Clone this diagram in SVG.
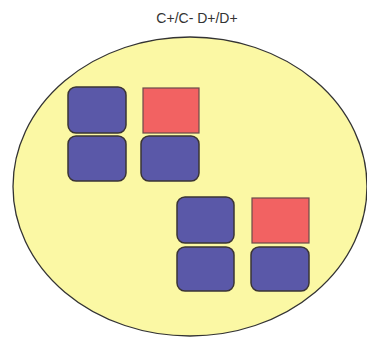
<svg xmlns="http://www.w3.org/2000/svg" width="367" height="339" viewBox="0 0 367 339">
<style>
.blue{fill:#5a58a8;stroke:#3a3434;stroke-width:1.5}
.red{fill:#f26262;stroke:#6a4a4a;stroke-width:1.2}
.lbl{font-family:"Liberation Sans",Arial,sans-serif;font-size:14px;fill:#333}
</style>
<rect width="367" height="339" fill="#fff"/>
<g id="title"><text class="lbl" x="197" y="23" text-anchor="middle">C+/C- D+/D+</text></g>
<g id="region"><ellipse cx="190" cy="186.5" rx="177" ry="149.5" fill="#fbf8a4" stroke="#333" stroke-width="1.3"/></g>
<g id="group1">
<rect class="blue" x="68" y="87" width="58" height="46" rx="8"/>
<rect class="red" x="143" y="88" width="56" height="45"/>
<rect class="blue" x="68" y="136" width="58" height="45" rx="8"/>
<rect class="blue" x="141" y="136" width="58" height="45" rx="8"/>
</g>
<g id="group2">
<rect class="blue" x="177" y="197" width="57" height="46" rx="8"/>
<rect class="red" x="252" y="198" width="57" height="45"/>
<rect class="blue" x="177" y="247" width="57" height="44" rx="8"/>
<rect class="blue" x="251" y="247" width="58" height="44" rx="8"/>
</g>
<g id="connectors"/>
</svg>
